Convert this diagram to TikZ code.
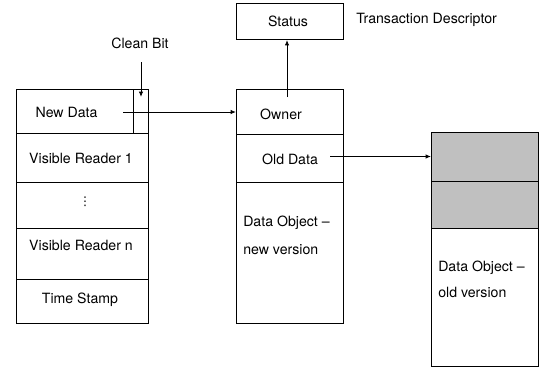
\documentclass[tikz,border=0pt]{standalone}
\usepackage{fontspec}
\setmainfont{TeX Gyre Heros}
\newfontfamily\dvsans{DejaVu Sans}
\usetikzlibrary{arrows.meta}
\begin{document}
\begin{tikzpicture}[x=0.75pt,y=-0.75pt,
  every node/.style={font=\fontsize{10.6}{12}\selectfont, inner sep=0pt},
  cell/.style={draw, line width=0.75pt, anchor=north west, inner sep=0pt},
  txt/.style={anchor=center},
  ltxt/.style={anchor=west},
  arr/.style={line width=0.6pt, -{Latex[length=4pt,width=3.2pt]}},
  grayfill/.style={fill={rgb,255:red,192;green,192;blue,192}}]
\useasboundingbox (0,0) rectangle (545,372);
% left column
\node[cell, minimum width=99pt, minimum height=33pt] (nd) at (16,89) {};
\node[cell, minimum width=11.25pt, minimum height=33pt] (cb) at (133,89) {};
\node[cell, minimum width=99pt, minimum height=36.75pt] (vr1) at (16,133) {};
\node[cell, minimum width=99pt, minimum height=34.5pt] (dots) at (16,182) {};
\node[cell, minimum width=99pt, minimum height=38.25pt] (vrn) at (16,228) {};
\node[cell, minimum width=99pt, minimum height=33pt] (ts) at (16,279) {};
\node[txt] (ndt) at (66.5,112) {New Data};
\node[txt] (vr1t) at (81,158) {Visible Reader 1};
\node[txt, font=\dvsans\fontsize{9}{10}\selectfont] (dotst) at (85,202) {⋮};
\node[txt] (vrnt) at (81,245) {Visible Reader n};
\node[txt] (tst) at (80,300) {Time Stamp};
\node[txt] (cbl) at (140,43) {Clean Bit};
% middle column
\node[cell, minimum width=80.25pt, minimum height=27pt] (st) at (236,3) {};
\node[txt] (stt) at (288,21) {Status};
\node[ltxt] (tdl) at (356,20) {Transaction Descriptor};
\node[cell, minimum width=80.25pt, minimum height=33.75pt] (ow) at (236,89) {};
\node[cell, minimum width=80.25pt, minimum height=36pt] (od) at (236,134) {};
\node[cell, minimum width=80.25pt, minimum height=105.75pt] (nv) at (236,182) {};
\node[txt] (owt) at (281,114) {Owner};
\node[txt] (odt) at (290,159) {Old Data};
\node[ltxt] (nv1) at (243,223) {Data Object –};
\node[ltxt] (nv2) at (243,250) {new version};
% right column
\node[cell, grayfill, minimum width=80.25pt, minimum height=36.75pt] (g1) at (431,132) {};
\node[cell, grayfill, minimum width=80.25pt, minimum height=35.25pt] (g2) at (431,181) {};
\node[cell, minimum width=80.25pt, minimum height=103.5pt] (ov) at (431,228) {};
\node[ltxt] (ov1) at (438,268) {Data Object –};
\node[ltxt] (ov2) at (438,292) {old version};
% connectors
\coordinate (ndS) at (123,112);
\coordinate (cbE) at (141,97);
\coordinate (cbS) at (141,62);
\coordinate (owS) at (287,97);
\coordinate (odS) at (330,156.5);
\draw[arr] (ndS) -- (ndS -| ow.west);
\draw[arr] (cbS) -- (cbE);
\draw[arr] (owS) -- (owS |- st.south);
\draw[arr] (odS) -- (odS -| g1.west);
\end{tikzpicture}
\end{document}
